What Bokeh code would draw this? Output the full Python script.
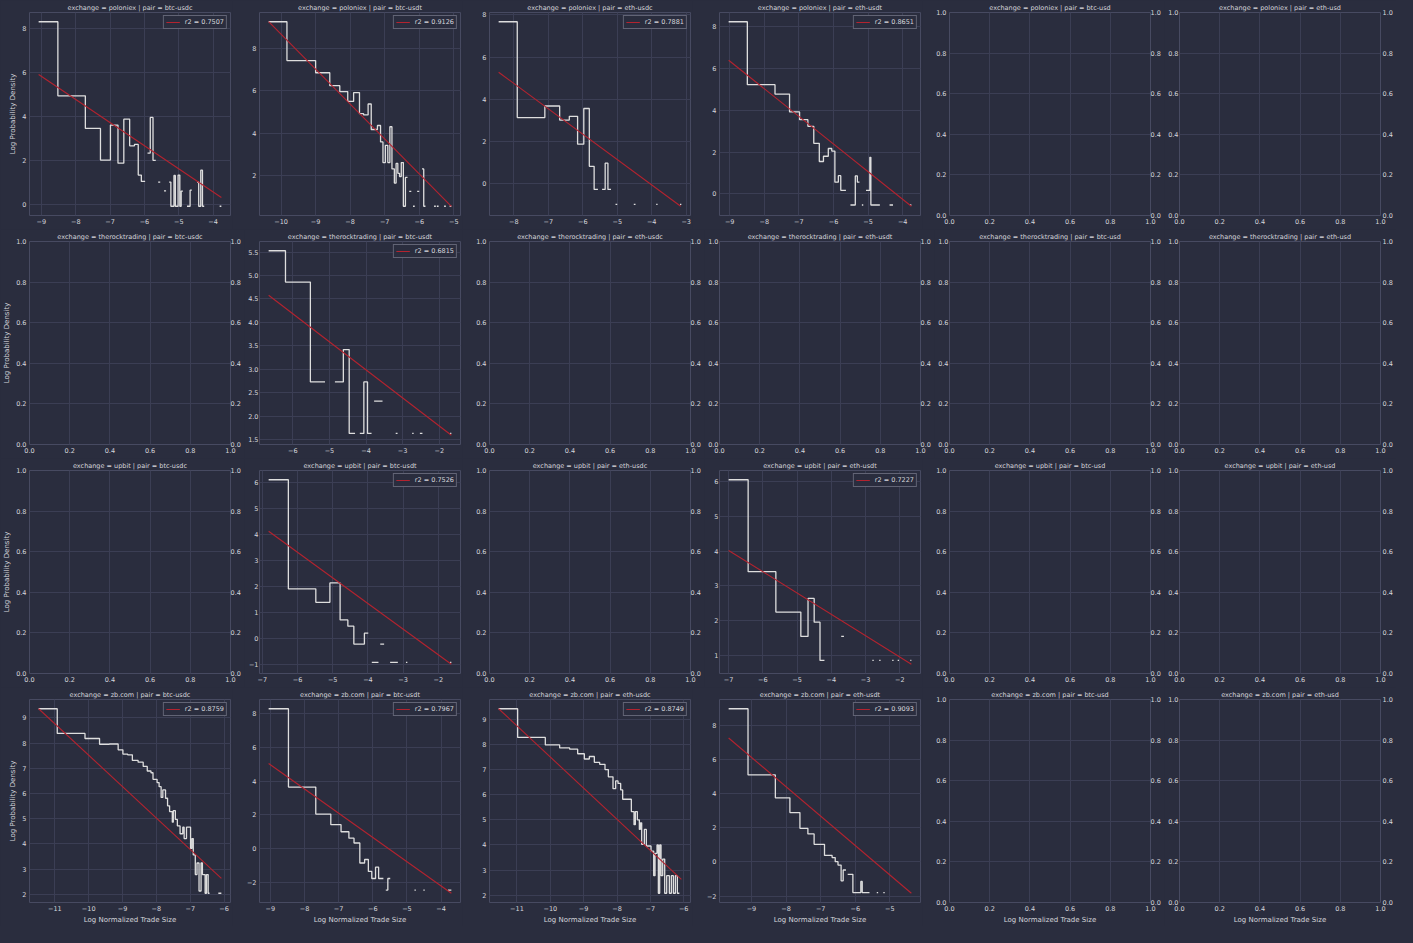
import math
from bokeh.plotting import figure
from bokeh.layouts import row, column
from bokeh.models import Range1d, DataRange1d, FixedTicker, LinearAxis, CustomJSTickFormatter
from bokeh.embed import file_html
from bokeh.resources import INLINE

NaN = float("nan")

EXCHANGES = ["poloniex", "therocktrading", "upbit", "zb.com"]
PAIRS = ["btc-usdc", "btc-usdt", "eth-usdc", "eth-usdt", "btc-usd", "eth-usd"]
UNIT_TICKS = [0.0, 0.2, 0.4, 0.6, 0.8, 1.0]

# ---- poloniex / btc-usdc
A_EDGES = [-9.08, -8.52, -7.72, -7.28, -6.99, -6.77, -6.60, -6.43, -6.29, -6.18, -6.09, -5.98, -5.91,
           -5.83, -5.75, -5.67, -5.60, -5.54, -5.43, -5.37, -5.28, -5.23, -5.14, -5.10, -5.02, -4.97,
           -4.93, -4.88, -4.76, -4.67, -4.62, -4.47, -4.42, -4.36, -4.31, -4.26, -3.81, -3.76]
A_VALS = [8.30, 4.93, 3.45, 2.01, 3.60, 1.87, 3.87, 2.66, 2.72, 1.33, 1.04, NaN, 2.33, 3.95, 2.00, NaN,
          1.01, NaN, 0.61, NaN, 1.01, -0.09, 1.31, -0.09, 1.33, -0.09, 0.60, NaN, -0.09, 0.64, NaN,
          1.01, -0.09, 1.55, -0.09, NaN, -0.09]
A_FIT_X = [-9.08, -3.76]
A_FIT_Y = [5.90, 0.31]
A_R2 = 0.7507
A_XTICKS = [-9, -8, -7, -6, -5, -4]
A_YTICKS = [0, 2, 4, 6, 8]

# ---- poloniex / btc-usdt
B_EDGES = [-10.36, -9.83, -9.00, -8.59, -8.30, -8.07, -7.90, -7.73, -7.61, -7.48, -7.39, -7.21, -7.12,
           -7.05, -6.98, -6.91, -6.85, -6.79, -6.72, -6.67, -6.62, -6.57, -6.52, -6.46, -6.40, -6.34,
           -6.29, -6.23, -6.18, -6.13, -6.06, -6.00, -5.92, -5.87, -5.82, -5.57, -5.52, -5.49, -5.44,
           -5.28, -5.23, -5.12, -5.07]
B_VALS = [9.28, 7.44, 6.86, 6.25, 5.97, 5.50, 5.92, 4.92, 4.86, 5.38, 4.17, 4.36, 3.58, 2.60, 3.42,
          2.60, 4.30, 2.30, 1.63, 2.56, 2.09, 1.94, 2.60, 0.53, 1.90, NaN, 1.24, NaN, 0.53, NaN, 1.24,
          NaN, 2.30, 0.53, NaN, 0.53, NaN, 0.53, NaN, 0.53, NaN, 0.53]
B_FIT_X = [-10.36, -5.07]
B_FIT_Y = [9.28, 0.53]
B_R2 = 0.9126
B_XTICKS = [-10, -9, -8, -7, -6, -5]
B_YTICKS = [2, 4, 6, 8]

# ---- poloniex / eth-usdc
C_EDGES = [-8.44, -7.90, -7.10, -6.67, -6.39, -6.15, -5.97, -5.81, -5.67, -5.56, -5.44, -5.35, -5.27,
           -5.18, -5.05, -5.00, -4.52, -4.47, -3.87, -3.83, -3.18, -3.14]
C_VALS = [7.68, 3.14, 3.69, 3.02, 3.20, 1.88, 3.57, 0.83, -0.26, NaN, -0.26, 0.98, -0.26, NaN, -0.97,
          NaN, -0.97, NaN, -0.97, NaN, -0.97]
C_FIT_X = [-8.44, -3.16]
C_FIT_Y = [5.29, -1.06]
C_R2 = 0.7881
C_XTICKS = [-8, -7, -6, -5, -4, -3]
C_YTICKS = [0, 2, 4, 6, 8]

# ---- poloniex / eth-usdt
D_EDGES = [-9.03, -8.49, -7.69, -7.27, -6.98, -6.74, -6.57, -6.41, -6.29, -6.15, -6.05, -5.96, -5.86,
           -5.79, -5.64, -5.51, -5.37, -5.31, -5.25, -5.18, -5.14, -5.06, -4.95, -4.92, -4.66, -4.38,
           -4.28, -3.79, -3.75]
D_VALS = [8.23, 5.22, 4.77, 3.92, 3.55, 3.23, 2.42, 1.55, 1.80, 2.17, 2.05, 0.56, 0.87, 0.17, NaN,
          -0.53, 0.86, 0.56, NaN, -0.53, NaN, 0.17, 1.75, -0.53, NaN, -0.53, NaN, -0.53]
D_FIT_X = [-9.03, -3.75]
D_FIT_Y = [6.39, -0.59]
D_R2 = 0.8651
D_XTICKS = [-9, -8, -7, -6, -5, -4]
D_YTICKS = [0, 2, 4, 6, 8]

# ---- therocktrading / btc-usdt
E_EDGES = [-6.66, -6.20, -5.52, -5.12, -4.85, -4.62, -4.46, -4.30, -4.17, -4.06, -3.96, -3.85, -3.78,
           -3.55, -3.19, -3.14, -2.74, -2.70, -2.53, -2.46, -1.71, -1.67]
E_VALS = [5.53, 4.86, 2.73, NaN, 2.73, 3.42, 1.63, NaN, 1.63, 2.73, 1.63, NaN, 2.32, NaN, 1.63, NaN,
          1.63, NaN, 1.63, NaN, 1.63]
E_FIT_X = [-6.66, -1.67]
E_FIT_Y = [4.58, 1.59]
E_R2 = 0.6815
E_XTICKS = [-6, -5, -4, -3, -2]
E_YTICKS = [1.5, 2.0, 2.5, 3.0, 3.5, 4.0, 4.5, 5.0, 5.5]

# ---- upbit / btc-usdt
F_EDGES = [-6.82, -6.26, -5.48, -5.08, -4.79, -4.57, -4.40, -4.10, -3.99, -3.89, -3.70, -3.65, -3.54,
           -3.37, -3.15, -2.92, -2.88, -1.67, -1.63]
F_VALS = [6.11, 1.90, 1.38, 2.13, 0.70, 0.46, -0.23, 0.19, NaN, -0.94, NaN, -0.23, NaN, -0.94, NaN,
          -0.94, NaN, -0.94]
F_FIT_X = [-6.82, -1.63]
F_FIT_Y = [4.12, -1.01]
F_R2 = 0.7526
F_XTICKS = [-7, -6, -5, -4, -3, -2]
F_YTICKS = [-1, 0, 1, 2, 3, 4, 5, 6]

# ---- upbit / eth-usdt
G_EDGES = [-7.00, -6.43, -5.62, -4.89, -4.68, -4.50, -4.33, -4.20, -3.71, -3.63, -2.80, -2.76, -2.60,
           -2.56, -2.22, -2.18, -2.06, -2.02, -1.69, -1.66]
G_VALS = [6.05, 3.41, 2.25, 1.55, 2.64, 1.96, 0.86, NaN, 1.55, NaN, 0.86, NaN, 0.86, NaN, 0.86, NaN,
          0.86, NaN, 0.86]
G_FIT_X = [-7.00, -1.66]
G_FIT_Y = [4.02, 0.75]
G_R2 = 0.7227
G_XTICKS = [-7, -6, -5, -4, -3, -2]
G_YTICKS = [1, 2, 3, 4, 5, 6]

# ---- zb.com / btc-usdc
H_EDGES = [-11.48, -10.93, -10.11, -9.68, -9.39, -9.13, -8.99, -8.85, -8.71, -8.54, -8.39, -8.27,
           -8.16, -8.10, -7.98, -7.92, -7.86, -7.81, -7.73, -7.67, -7.61, -7.53, -7.50, -7.44, -7.38,
           -7.30, -7.22, -7.18, -7.11, -6.99, -6.95, -6.91, -6.85, -6.80, -6.74, -6.68, -6.64, -6.56,
           -6.52, -6.47, -6.43, -6.17, -6.08]
H_VALS = [9.36, 8.38, 8.18, 7.95, 7.96, 7.73, 7.56, 7.53, 7.31, 7.24, 7.07, 6.89, 6.82, 6.56, 6.43,
          6.27, 5.84, 6.14, 5.81, 5.51, 5.28, 4.86, 5.32, 4.97, 4.71, 4.40, 4.66, 4.21, 4.66, 3.82,
          4.21, 3.56, 2.78, 3.24, 2.13, 3.24, 2.78, 2.04, 2.78, 2.04, NaN, 2.04]
H_FIT_X = [-11.48, -6.08]
H_FIT_Y = [9.36, 2.63]
H_R2 = 0.8759
H_XTICKS = [-11, -10, -9, -8, -7, -6]
H_YTICKS = [2, 3, 4, 5, 6, 7, 8, 9]

# ---- zb.com / btc-usdt
J_EDGES = [-9.05, -8.47, -7.67, -7.23, -6.93, -6.70, -6.55, -6.38, -6.24, -6.13, -6.03, -5.92, -5.83,
           -5.69, -5.62, -5.56, -5.49, -4.78, -4.74, -4.52, -4.48, -3.80, -3.70]
J_VALS = [8.31, 3.65, 2.04, 1.41, 0.99, 0.61, 0.32, -0.87, -0.66, -1.37, -1.79, -1.12, -1.79, NaN,
          -2.48, -1.79, NaN, -2.48, NaN, -2.48, NaN, -2.48]
J_FIT_X = [-9.05, -3.70]
J_FIT_Y = [5.05, -2.67]
J_R2 = 0.7967
J_XTICKS = [-9, -8, -7, -6, -5, -4]
J_YTICKS = [-2, 0, 2, 4, 6, 8]

# ---- zb.com / eth-usdc
I_EDGES = [-11.55, -10.98, -10.15, -9.72, -9.42, -9.18, -8.98, -8.83, -8.68, -8.52, -8.36, -8.26,
           -8.12, -8.04, -7.97, -7.89, -7.83, -7.57, -7.49, -7.45, -7.39, -7.33, -7.30, -7.26, -7.18,
           -7.12, -6.98, -6.90, -6.86, -6.80, -6.76, -6.72, -6.68, -6.63, -6.57, -6.51, -6.43, -6.37,
           -6.31, -6.25, -6.19, -6.13]
I_VALS = [9.42, 8.28, 7.98, 7.86, 7.81, 7.63, 7.42, 7.52, 7.29, 7.21, 7.00, 6.71, 6.24, 6.55, 6.45,
          6.19, 5.82, 5.33, 4.81, 5.33, 5.00, 4.62, 4.88, 4.03, 4.62, 3.96, 3.76, 2.78, 3.67, 4.00,
          2.08, 4.00, 2.78, 3.44, 2.08, 2.78, 2.08, 2.78, 2.08, 2.78, 2.08]
I_FIT_X = [-11.55, -6.07]
I_FIT_Y = [9.42, 2.63]
I_R2 = 0.8749
I_XTICKS = [-11, -10, -9, -8, -7, -6]
I_YTICKS = [2, 3, 4, 5, 6, 7, 8, 9]

# ---- zb.com / eth-usdt
K_EDGES = [-9.66, -9.10, -8.31, -7.89, -7.60, -7.37, -7.19, -6.89, -6.67, -6.58, -6.50, -6.41, -6.35,
           -6.27, -6.22, -6.07, -5.84, -5.80, -5.59, -5.38, -5.34, -5.19, -5.15]
K_VALS = [8.96, 5.09, 3.75, 2.89, 1.97, 1.64, 1.03, 0.38, 0.26, 0.02, -0.18, -1.10, -0.47, NaN, -0.72,
          -1.79, -1.14, -1.79, NaN, -1.79, NaN, -1.79]
K_FIT_X = [-9.66, -4.38]
K_FIT_Y = [7.25, -1.83]
K_R2 = 0.9093
K_XTICKS = [-9, -8, -7, -6, -5]
K_YTICKS = [-2, 0, 2, 4, 6, 8]

PANELS = {
    (0, 0): (A_EDGES, A_VALS, A_FIT_X, A_FIT_Y, A_R2, A_XTICKS, A_YTICKS, 0),
    (0, 1): (B_EDGES, B_VALS, B_FIT_X, B_FIT_Y, B_R2, B_XTICKS, B_YTICKS, 0),
    (0, 2): (C_EDGES, C_VALS, C_FIT_X, C_FIT_Y, C_R2, C_XTICKS, C_YTICKS, 0),
    (0, 3): (D_EDGES, D_VALS, D_FIT_X, D_FIT_Y, D_R2, D_XTICKS, D_YTICKS, 0),
    (1, 1): (E_EDGES, E_VALS, E_FIT_X, E_FIT_Y, E_R2, E_XTICKS, E_YTICKS, 1),
    (2, 1): (F_EDGES, F_VALS, F_FIT_X, F_FIT_Y, F_R2, F_XTICKS, F_YTICKS, 0),
    (2, 3): (G_EDGES, G_VALS, G_FIT_X, G_FIT_Y, G_R2, G_XTICKS, G_YTICKS, 0),
    (3, 0): (H_EDGES, H_VALS, H_FIT_X, H_FIT_Y, H_R2, H_XTICKS, H_YTICKS, 0),
    (3, 1): (J_EDGES, J_VALS, J_FIT_X, J_FIT_Y, J_R2, J_XTICKS, J_YTICKS, 0),
    (3, 2): (I_EDGES, I_VALS, I_FIT_X, I_FIT_Y, I_R2, I_XTICKS, I_YTICKS, 0),
    (3, 3): (K_EDGES, K_VALS, K_FIT_X, K_FIT_Y, K_R2, K_XTICKS, K_YTICKS, 0),
}

# ---- style
BG = "#2a2d3e"
GRID = "#3b3e54"
SPINE = "#474a61"
TEXT = "#d6d6dc"
STEP = "#dedede"
FIT = "#b3232f"
FONT = "DejaVu Sans"
FS = "6.5px"
FRAME_W = 201
FRAME_H = 203


def step_path(edges, vals):
    assert len(edges) == len(vals) + 1
    xs, ys = [], []
    for i, v in enumerate(vals):
        if math.isnan(v):
            if xs and not math.isnan(xs[-1]):
                xs.append(NaN)
                ys.append(NaN)
            continue
        xs += [edges[i], edges[i + 1]]
        ys += [v, v]
    return xs, ys


def fmt(decimals):
    return CustomJSTickFormatter(code="return tick.toFixed(%d).replace('-', '\\u2212');" % decimals)


def style_axis(ax, ticks, decimals, standoff=3):
    ax.ticker = FixedTicker(ticks=ticks)
    ax.formatter = fmt(decimals)
    ax.axis_line_color = None
    ax.major_tick_line_color = None
    ax.minor_tick_line_color = None
    ax.major_tick_out = 0
    ax.major_tick_in = 0
    ax.minor_tick_out = 0
    ax.minor_tick_in = 0
    ax.major_label_text_font = FONT
    ax.major_label_text_font_size = FS
    ax.major_label_text_color = TEXT
    ax.major_label_standoff = standoff
    ax.axis_label_text_font = FONT
    ax.axis_label_text_font_size = "7px"
    ax.axis_label_text_font_style = "normal"
    ax.axis_label_text_color = TEXT
    ax.axis_label_standoff = 2


def is_empty(r, c):
    return (r, c) not in PANELS


rows = []
for r in range(4):
    figs = []
    for c in range(6):
        empty = is_empty(r, c)
        left_empty = c >= 1 and is_empty(r, c - 1)
        if c == 0:
            b_left = 29
        elif left_empty:
            b_left = 15
        else:
            b_left = 27
        if empty:
            b_right = 16 if c == 5 else 14
        else:
            b_right = 2
        if empty:
            xr, yr = Range1d(0, 1), Range1d(0, 1)
        else:
            xr, yr = DataRange1d(), DataRange1d()
        p = figure(frame_width=FRAME_W, frame_height=FRAME_H, x_range=xr, y_range=yr,
                   output_backend="svg", toolbar_location=None,
                   min_border_left=b_left, min_border_right=b_right,
                   min_border_top=10,
                   min_border_bottom=24 if r == 3 else 14,
                   background_fill_color=BG, border_fill_color=BG,
                   outline_line_color=SPINE, outline_line_width=1,
                   title="exchange = %s | pair = %s" % (EXCHANGES[r], PAIRS[c]))
        p.title.align = "center"
        p.title.text_font = FONT
        p.title.text_font_size = FS
        p.title.text_font_style = "normal"
        p.title.text_color = TEXT
        try:
            p.title.standoff = 2
        except Exception:
            pass
        p.grid.grid_line_color = GRID
        p.grid.grid_line_width = 1

        ystand = 1 if left_empty else 3
        if empty:
            style_axis(p.xaxis[0], UNIT_TICKS, 1)
            style_axis(p.yaxis[0], UNIT_TICKS, 1, ystand)
            # twin (right-hand) axis of an empty facet
            ra = LinearAxis()
            p.add_layout(ra, "right")
            style_axis(ra, UNIT_TICKS, 1, 2 if c == 5 else 0)
        else:
            edges, vals, fx, fy, r2, xt, yt, yd = PANELS[(r, c)]
            sx, sy = step_path(edges, vals)
            p.line(sx, sy, line_color=STEP, line_width=1.3)
            p.line(fx, fy, line_color=FIT, line_width=1.1, legend_label="r2 = %.4f" % r2)
            style_axis(p.xaxis[0], xt, 0)
            style_axis(p.yaxis[0], yt, yd, ystand)
            lg = p.legend[0]
            lg.location = "top_right"
            lg.label_text_font = FONT
            lg.label_text_font_size = FS
            lg.label_text_color = TEXT
            lg.background_fill_color = BG
            lg.background_fill_alpha = 1.0
            lg.border_line_color = "#9a9cab"
            lg.border_line_width = 1
            lg.glyph_width = 14
            lg.glyph_height = 8
            lg.label_height = 8
            lg.label_standoff = 5
            lg.padding = 2
            lg.spacing = 0
            lg.margin = 3

        if c == 0:
            p.yaxis[0].axis_label = "Log Probability Density"
        if r == 3:
            p.xaxis[0].axis_label = "Log Normalized Trade Size"
        figs.append(p)
    rows.append(row(*figs))

layout = column(*rows)

html = file_html(layout, INLINE)
html = html.replace("<head>", "<head><style>html,body{background:#2a2d3e;}</style>", 1)
open("out.html", "w").write(html)
